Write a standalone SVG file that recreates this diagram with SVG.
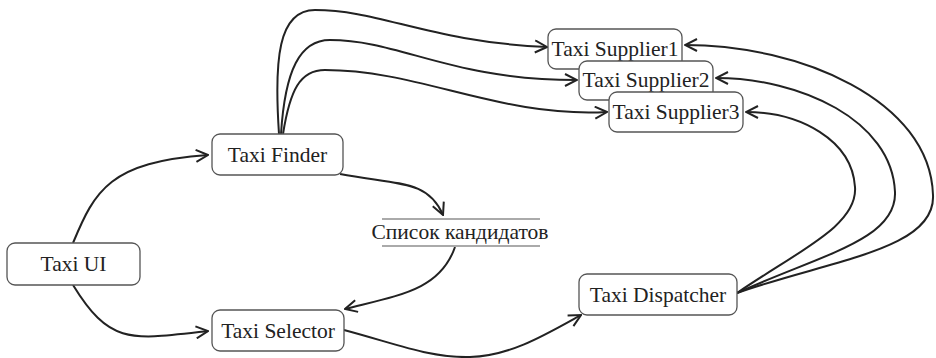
<svg xmlns="http://www.w3.org/2000/svg" width="936" height="358" viewBox="0 0 936 358">
<style>
.box{fill:#fff;stroke:#555;stroke-width:1.3}
.t{font-family:"Liberation Serif",serif;font-size:21.5px;fill:#222;text-anchor:middle}
.c{fill:none;stroke:#222;stroke-width:2}
.db{stroke:#aaa;stroke-width:2}
</style>
<defs>
<marker id="a" viewBox="0 0 14 14" refX="13" refY="7" markerWidth="14" markerHeight="14" markerUnits="userSpaceOnUse" orient="auto">
<path d="M1,1 L13,7 L1,13" fill="none" stroke="#222" stroke-width="2"/>
</marker>
</defs>
<g id="connectors">
<path class="c" marker-end="url(#a)" d="M73,243 C95,190 110,162 208,155"/>
<path class="c" marker-end="url(#a)" d="M73,285 C110,345 130,340 208,331"/>
<path class="c" marker-end="url(#a)" d="M340,174 C400,185 428,180 443,215"/>
<path class="c" marker-end="url(#a)" d="M455,247 C440,290 400,295 345,309"/>
<path class="c" marker-end="url(#a)" d="M344,330 C400,345 430,358 470,357 C510,356 545,335 581,315"/>
<path class="c" marker-end="url(#a)" d="M279,134 C274,60 278,10 315,10 C380,10 430,42 547,47"/>
<path class="c" marker-end="url(#a)" d="M281,134 C285,70 300,40 330,40 C400,40 450,80 577,80"/>
<path class="c" marker-end="url(#a)" d="M283,134 C290,90 300,70 325,70 C420,70 500,118 607,112"/>
<path class="c" marker-end="url(#a)" d="M737,293 C830,260 936,250 933,195 C930,100 800,45 685,45"/>
<path class="c" marker-end="url(#a)" d="M737,293 C820,255 897,240 895,192 C892,120 800,78 716,78"/>
<path class="c" marker-end="url(#a)" d="M737,293 C800,250 858,225 855,187 C852,140 800,112 746,112"/>
</g>
<g id="taxi-ui"><rect class="box" x="7" y="243" width="133" height="42" rx="8"/><text class="t" x="73.5" y="271">Taxi UI</text></g>
<g id="taxi-finder"><rect class="box" x="212" y="134" width="131" height="41" rx="8"/><text class="t" x="277.5" y="162">Taxi Finder</text></g>
<g id="taxi-selector"><rect class="box" x="212" y="310" width="132" height="41" rx="8"/><text class="t" x="278" y="338">Taxi Selector</text></g>
<g id="candidates"><line class="db" x1="382" y1="219" x2="540" y2="219"/><line class="db" x1="382" y1="246" x2="540" y2="246"/><text class="t" x="460" y="239">Список кандидатов</text></g>
<g id="taxi-dispatcher"><rect class="box" x="579" y="274" width="158" height="41" rx="8"/><text class="t" x="658" y="302">Taxi Dispatcher</text></g>
<g id="supplier1"><rect class="box" x="548" y="29" width="134" height="40" rx="8"/><text class="t" x="615" y="56">Taxi Supplier1</text></g>
<g id="supplier2"><rect class="box" x="579" y="61" width="134" height="39" rx="8"/><text class="t" x="646" y="87">Taxi Supplier2</text></g>
<g id="supplier3"><rect class="box" x="609" y="92" width="134" height="40" rx="8"/><text class="t" x="676" y="119">Taxi Supplier3</text></g>
</svg>
